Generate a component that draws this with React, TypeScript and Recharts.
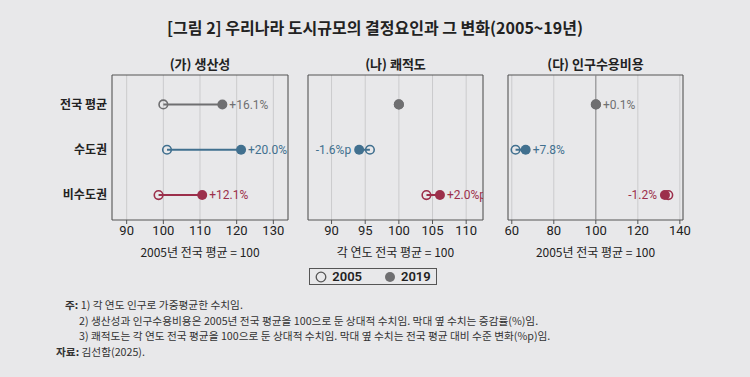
import React from 'react'
import { ScatterChart, Scatter, XAxis, YAxis, CartesianGrid, ReferenceArea, ReferenceLine } from 'recharts'

const regions = ['전국 평균', '수도권', '비수도권']
const colors = ['#6f6f71', '#41708f', '#9c2f4b']

const panelTitles = ['(가) 생산성', '(나) 쾌적도', '(다) 인구수용비용']
const axisTitles = ['2005년 전국 평균 = 100', '각 연도 전국 평균 = 100', '2005년 전국 평균 = 100']

const prod2005 = [100, 101.0, 98.7]
const prod2019 = [116.1, 121.2, 110.6]
const prodLabels = ['+16.1%', '+20.0%', '+12.1%']
const prodTicks = [90, 100, 110, 120, 130]

const amen2005 = [100, 95.7, 104.1]
const amen2019 = [100, 94.1, 106.1]
const amenLabels = ['', '-1.6%p', '+2.0%p']
const amenTicks = [90, 95, 100, 105, 110]

const cost2005 = [100, 61.8, 134.5]
const cost2019 = [100.1, 66.6, 132.9]
const costLabels = ['+0.1%', '+7.8%', '-1.2%']
const costTicks = [60, 80, 100, 120, 140]

const BG = '#e8e8ea'
const FONT = 'Roboto, "Noto Sans CJK KR", sans-serif'
const KFONT = '"Noto Sans CJK KR", sans-serif'
const Y_DOMAIN: [number, number] = [-0.65, 2.55]

const buildRows = (a: number[], b: number[], labels: string[]) =>
    regions.map((name, i) => {
        const neg = labels[i].startsWith('-')
        const lo = Math.min(a[i], b[i])
        const hi = Math.max(a[i], b[i])
        const anchor = neg ? lo : hi
        const pts = [
            { x: a[i], y: i, year: 2005 },
            { x: b[i], y: i, year: 2019 },
        ].map(p => ({ ...p, label: labels[i] && p.x === anchor && !(p.year === 2005 && a[i] === b[i]) ? labels[i] : '', side: neg ? 'left' : 'right', color: colors[i] }))
        return { name, pts }
    })

const Dot = (props: any) => {
    const { cx, cy, payload } = props
    if (cx == null || cy == null) return null
    const c = payload.color
    return (
        <g>
            {payload.year === 2005
                ? <circle cx={cx} cy={cy} r={4.3} fill="none" stroke={c} strokeWidth={1.6} />
                : <circle cx={cx} cy={cy} r={5} fill={c} />}
            {payload.label && (
                <text
                    x={payload.side === 'left' ? cx - 8 : cx + 7}
                    y={cy}
                    dy="0.35em"
                    textAnchor={payload.side === 'left' ? 'end' : 'start'}
                    fill={c}
                    fontSize={12}
                    fontFamily={FONT}
                >
                    {payload.label}
                </text>
            )}
        </g>
    )
}

const Panel = ({ left, width, marginLeft, yWidth, domain, ticks, rows, axisTitle, refLine }: any) => (
    <div style={{ position: 'absolute', left, top: 70 }}>
        <ScatterChart width={width} height={196} margin={{ top: 5, right: 12, left: marginLeft, bottom: 0 }}>
            <CartesianGrid horizontal={false} stroke="#cbcbcd" strokeWidth={1} />
            <XAxis
                type="number"
                dataKey="x"
                domain={domain}
                ticks={ticks}
                allowDataOverflow
                axisLine={false}
                tickLine={{ stroke: '#555' }}
                tickSize={4}
                height={46}
                tick={{ fill: '#222', fontSize: 13, fontFamily: FONT }}
                label={{ value: axisTitle, position: 'insideBottom', offset: 9, fill: '#222', fontSize: 12, fontFamily: KFONT }}
            />
            <YAxis
                type="number"
                dataKey="y"
                domain={Y_DOMAIN}
                reversed
                ticks={[0, 1, 2]}
                hide={!yWidth}
                width={yWidth || 0}
                axisLine={false}
                tickLine={false}
                tickSize={0}
                tickMargin={5}
                tickFormatter={(v: number) => regions[v]}
                tick={{ fill: '#222', fontSize: 12, fontWeight: 700, fontFamily: KFONT }}
            />
            {refLine && <ReferenceLine x={100} stroke="#8a8a8c" strokeWidth={1} />}
            <ReferenceArea x1={domain[0]} x2={domain[1]} y1={Y_DOMAIN[0]} y2={Y_DOMAIN[1]} fill="none" stroke="#555" strokeWidth={1} ifOverflow="visible" />
            {rows.map((r: any, i: number) => (
                <Scatter
                    key={r.name}
                    data={r.pts}
                    line={{ stroke: colors[i], strokeWidth: 2 }}
                    shape={Dot}
                    isAnimationActive={false}
                />
            ))}
        </ScatterChart>
    </div>
)

const titleStyle = (center: number): React.CSSProperties => ({
    position: 'absolute', left: center - 100, width: 200, top: 54, textAlign: 'center',
    fontSize: 13, fontWeight: 600, color: '#222', fontFamily: KFONT,
})

export default function App() {
    const centers = [200, 395.5, 595.5]
    return (
        <div style={{ position: 'absolute', left: 0, top: 0, width: 750, height: 377, background: BG, fontFamily: KFONT, overflow: 'hidden' }}>
            <div style={{ position: 'absolute', left: 0, width: 750, top: 15, textAlign: 'center', fontSize: 16, fontWeight: 700, color: '#222' }}>
                [그림 2] 우리나라 도시규모의 결정요인과 그 변화(2005~19년)
            </div>
            {panelTitles.map((t, i) => <div key={t} style={titleStyle(centers[i])}>{t}</div>)}
            <Panel left={0} width={300} marginLeft={0} yWidth={112} domain={[86, 134]} ticks={prodTicks} rows={buildRows(prod2005, prod2019, prodLabels)} axisTitle={axisTitles[0]} />
            <Panel left={300} width={195} marginLeft={8} domain={[86.5, 112.5]} ticks={amenTicks} rows={buildRows(amen2005, amen2019, amenLabels)} axisTitle={axisTitles[1]} />
            <Panel left={500} width={195} marginLeft={8} domain={[58.2, 141.5]} ticks={costTicks} rows={buildRows(cost2005, cost2019, costLabels)} axisTitle={axisTitles[2]} refLine />
            <div style={{ position: 'absolute', left: 309, top: 268, width: 126, height: 15, border: '1.5px solid #555', display: 'flex', alignItems: 'center', justifyContent: 'center', gap: 22, fontSize: 13, fontWeight: 600, color: '#222', fontFamily: FONT }}>
                <span style={{ display: 'flex', alignItems: 'center', gap: 5 }}>
                    <svg width={12} height={12}><circle cx={6} cy={6} r={4.8} fill="none" stroke="#555" strokeWidth={1.3} /></svg>2005
                </span>
                <span style={{ display: 'flex', alignItems: 'center', gap: 5 }}>
                    <svg width={12} height={12}><circle cx={6} cy={6} r={5} fill="#6f6f71" /></svg>2019
                </span>
            </div>
            <div style={{ position: 'absolute', left: 56, top: 297, fontSize: 10.7, color: '#333', lineHeight: '15.7px' }}>
                <div style={{ paddingLeft: 9 }}><b>주:</b> 1) 각 연도 인구로 가중평균한 수치임.</div>
                <div style={{ paddingLeft: 23 }}>2) 생산성과 인구수용비용은 2005년 전국 평균을 100으로 둔 상대적 수치임. 막대 옆 수치는 증감률(%)임.</div>
                <div style={{ paddingLeft: 23 }}>3) 쾌적도는 각 연도 전국 평균을 100으로 둔 상대적 수치임. 막대 옆 수치는 전국 평균 대비 수준 변화(%p)임.</div>
                <div><b>자료:</b> 김선함(2025).</div>
            </div>
        </div>
    )
}
